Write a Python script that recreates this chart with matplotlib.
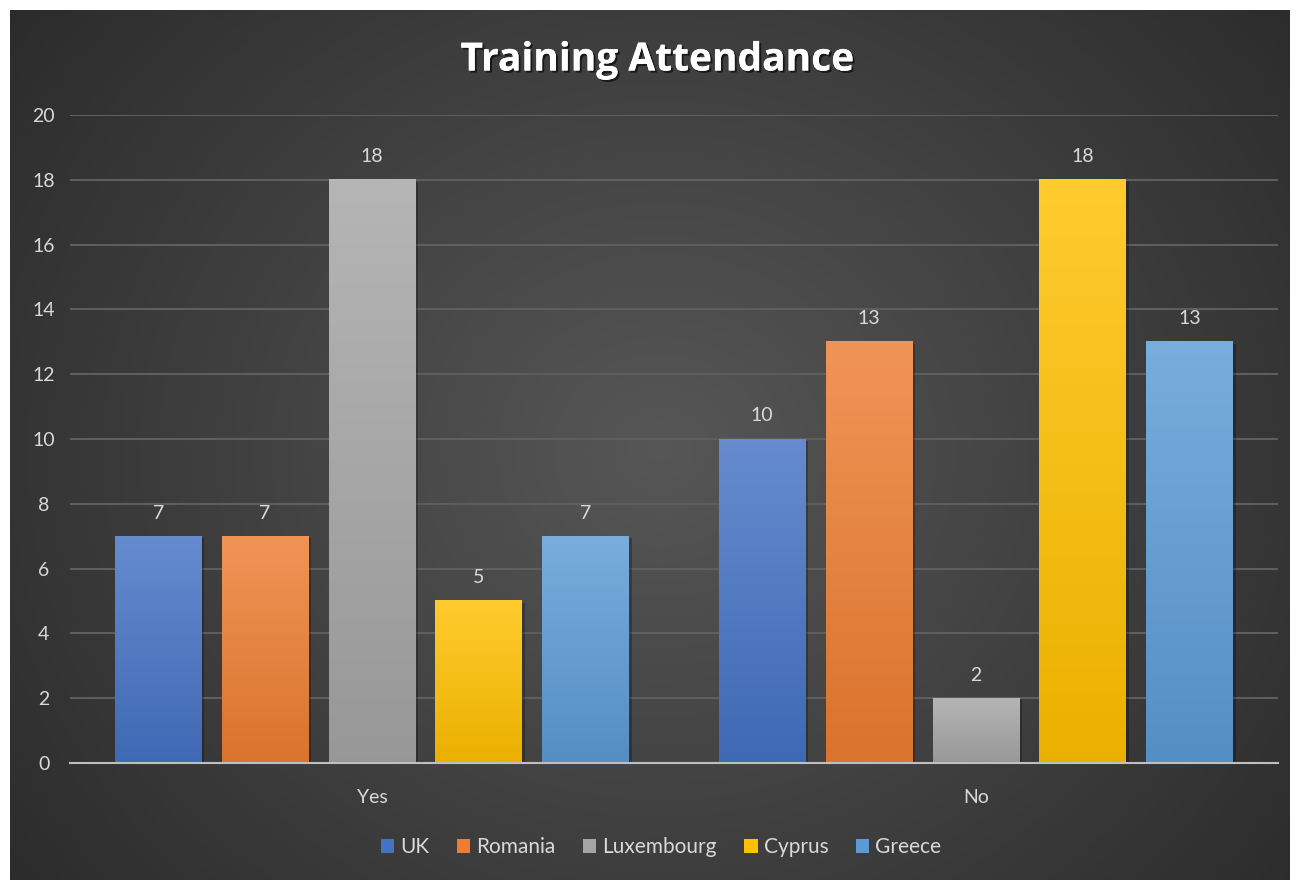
import numpy as np
import matplotlib
matplotlib.use("Agg")
import matplotlib.pyplot as plt
import matplotlib.patheffects as pe
from matplotlib.colors import to_rgb

categories = ["Yes", "No"]
series = ["UK", "Romania", "Luxembourg", "Cyprus", "Greece"]
uk = [7, 10]
romania = [7, 13]
luxembourg = [18, 2]
cyprus = [5, 18]
greece = [7, 13]
values = [uk, romania, luxembourg, cyprus, greece]
colors = ["#4472C4", "#ED7D31", "#A5A5A5", "#FFC000", "#5B9BD5"]
yticks = [0, 2, 4, 6, 8, 10, 12, 14, 16, 18, 20]

plt.rcParams['font.family'] = ['Lato', 'DejaVu Sans']

W, H = 1297, 882
fig = plt.figure(figsize=(W/100, H/100), dpi=100)
fig.patch.set_facecolor("white")

# background panel with radial gradient
bg = fig.add_axes([10/W, 1 - 880/H, 1280/W, 870/H])
bg.set_axis_off()
yy, xx = np.mgrid[0:870, 0:1280]
cx, cy = 650, 440
r = np.sqrt(((xx - cx) / 1.0) ** 2 + ((yy - cy) / 0.9) ** 2)
r = r / r.max()
inner = np.array([0.34, 0.34, 0.34])
outer = np.array([0.17, 0.17, 0.17])
img = inner[None, None, :] * (1 - r[..., None]) + outer[None, None, :] * r[..., None]
bg.imshow(img, aspect="auto", extent=[0, 1, 0, 1], interpolation="bilinear")
bg.set_xlim(0, 1); bg.set_ylim(0, 1)

ax = fig.add_axes([70/W, 1 - 763/H, (1278-70)/W, (763-115)/H])
ax.patch.set_alpha(0)
ax.set_ylim(0, 20)
ax.set_xlim(-0.5, 1.5)

x = np.arange(len(categories))
bw = 0.144
step = 0.177
offsets = (np.arange(len(series)) - 2) * step

def lighten(c, f):
    c = np.array(to_rgb(c))
    return c + (1 - c) * f

def darken(c, f):
    c = np.array(to_rgb(c))
    return c * (1 - f)

for i, (name, vals, col) in enumerate(zip(series, values, colors)):
    top = lighten(col, 0.18)
    bot = darken(col, 0.08)
    grad = np.linspace(0, 1, 256)[:, None, None]
    gimg = top[None, None, :] * (1 - grad) + bot[None, None, :] * grad
    for xi, v in zip(x, vals):
        x0 = xi + offsets[i] - bw / 2
        ax.add_patch(plt.Rectangle((x0 + 0.004, 0), bw, v - 0.06, color="black", alpha=0.25, lw=0, zorder=2))
        ax.imshow(gimg, extent=[x0, x0 + bw, 0, v], aspect="auto", zorder=3, interpolation="bilinear")
        ax.text(xi + offsets[i], v + 0.45, f"{v}", ha="center", va="bottom",
                color="#d9d9d9", fontsize=14, zorder=4)
    ax.bar([0], [0], color=col, label=name)

ax.set_xlim(-0.5, 1.5)
ax.set_ylim(0, 20)
ax.set_yticks(yticks)
ax.set_yticklabels([str(t) for t in yticks], color="#d9d9d9", fontsize=14)
ax.set_xticks(x)
ax.set_xticklabels(categories, color="#d9d9d9", fontsize=14)
ax.tick_params(length=0)
ax.tick_params(axis="x", pad=19)
ax.tick_params(axis="y", pad=19)
for lab in ax.get_yticklabels():
    lab.set_horizontalalignment("center")
ax.grid(axis="y", color="#5e5e5e", lw=1.5, zorder=0)
ax.set_axisbelow(True)
for s in ["top", "right", "left"]:
    ax.spines[s].set_visible(False)
ax.spines["bottom"].set_color("#bfbfbf")
ax.spines["bottom"].set_linewidth(1.5)
ax.spines["bottom"].set_zorder(5)

fig.text(657/W, 1 - 60/H, "Training Attendance", ha="center", va="center",
         color="white", fontsize=28, fontweight="bold", family=["Open Sans", "DejaVu Sans"],
         path_effects=[pe.withSimplePatchShadow(offset=(1.5, -1.5), shadow_rgbFace="black", alpha=0.6), pe.Normal()])

leg = fig.legend(loc="center", bbox_to_anchor=(661/W, 1 - 847/H), ncol=5, frameon=False,
                 fontsize=15, handlelength=0.65, handleheight=0.65, handletextpad=0.3,
                 columnspacing=1.3, labelcolor="#d9d9d9")

fig.savefig("out.png", dpi=100, facecolor="white")
